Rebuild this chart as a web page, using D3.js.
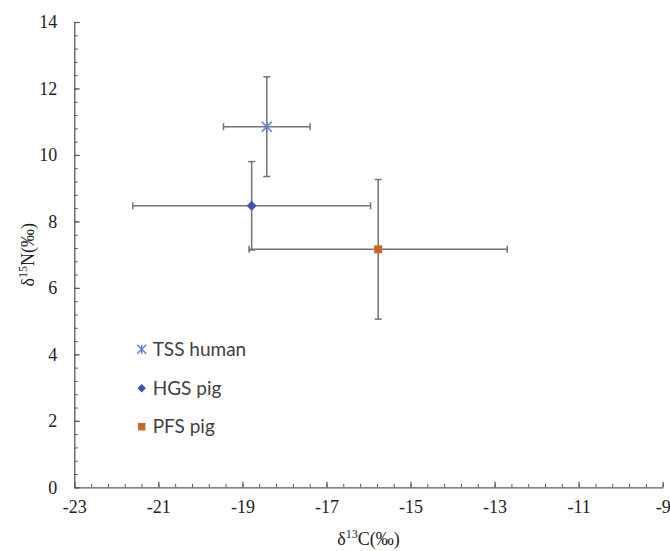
<!DOCTYPE html>
<html>
<head>
<meta charset="utf-8">
<script src="https://cdn.jsdelivr.net/npm/d3@7"></script>
<style>
  html, body { margin: 0; padding: 0; background: #fff; }
  svg { display: block; }
  .serif { font-family: "Liberation Serif", "Times New Roman", Tinos, "DejaVu Serif", serif; }
</style>
</head>
<body>
<svg id="chart" width="670" height="551"></svg>
<script>
// ---- data ----
const series = ["TSS human", "HGS pig", "PFS pig"];
const d13C = [-18.42, -18.78, -15.77];
const d15N = [10.85, 8.47, 7.16];
const errC = [1.03, 2.83, 3.07];
const errN = [1.5, 1.33, 2.1];
const xTicks = [-23, -21, -19, -17, -15, -13, -11, -9];
const yTicks = [0, 2, 4, 6, 8, 10, 12, 14];
const markerShapes = ["asterisk", "diamond", "square"];
const markerColors = ["#5b7fd0", "#3f51b0", "#c8692c"];

const svg = d3.select("#chart");
const x = d3.scaleLinear().domain([-23, -9]).range([74.3, 662.7]);
const y = d3.scaleLinear().domain([0, 14]).range([487.3, 22]);

const axisColor = "#595959";

// minor ticks (every 0.4)
const xMinor = d3.range(0, 36).map(i => -23 + i * 0.4);
const yMinor = d3.range(0, 36).map(i => i * 0.4);

const gxm = svg.append("g").attr("transform", `translate(0,${y(0)})`)
  .call(d3.axisBottom(x).tickValues(xMinor).tickSizeInner(-3.5).tickSizeOuter(0).tickFormat(""));
gxm.select(".domain").remove();
gxm.selectAll("line").attr("stroke", axisColor);

const gym = svg.append("g").attr("transform", `translate(${x(-23)},0)`)
  .call(d3.axisLeft(y).tickValues(yMinor).tickSizeInner(-3.5).tickSizeOuter(0).tickFormat(""));
gym.select(".domain").remove();
gym.selectAll("line").attr("stroke", axisColor);

const gx = svg.append("g").attr("transform", `translate(0,${y(0)})`)
  .call(d3.axisBottom(x).tickValues(xTicks).tickSizeInner(-5.5).tickSizeOuter(0).tickPadding(13).tickFormat(d => d));
gx.attr("font-family", null).attr("font-size", null);
gx.select(".domain").attr("stroke", axisColor).attr("stroke-width", 1.3);
gx.selectAll("line").attr("stroke", axisColor).attr("stroke-width", 1.2);
gx.selectAll("text").attr("class", "serif").style("font-size", "18px").attr("fill", "#222");

const gy = svg.append("g").attr("transform", `translate(${x(-23)},0)`)
  .call(d3.axisLeft(y).tickValues(yTicks).tickSizeInner(-5.5).tickSizeOuter(0).tickPadding(17).tickFormat(d => d));
gy.attr("font-family", null).attr("font-size", null);
gy.select(".domain").attr("stroke", axisColor).attr("stroke-width", 1.3);
gy.selectAll("line").attr("stroke", axisColor).attr("stroke-width", 1.2);
gy.selectAll("text").attr("class", "serif").style("font-size", "18px").attr("fill", "#222");

// axis titles
const xt = svg.append("text").attr("class", "serif")
  .attr("x", (x(-23) + x(-9)) / 2).attr("y", 545)
  .attr("text-anchor", "middle").style("font-size", "18px").attr("fill", "#222");
xt.append("tspan").text("δ");
xt.append("tspan").attr("baseline-shift", "super").style("font-size", "12px").text("13");
xt.append("tspan").text("C(‰)");

const yt = svg.append("text").attr("class", "serif")
  .attr("transform", `translate(34,${(y(0) + y(14)) / 2}) rotate(-90)`)
  .attr("text-anchor", "middle").style("font-size", "18px").attr("fill", "#222");
yt.append("tspan").text("δ");
yt.append("tspan").attr("baseline-shift", "super").style("font-size", "12px").text("15");
yt.append("tspan").text("N(‰)");

// error bars
const idx = d3.range(series.length);
const ebColor = "#737373";
const cap = 3.5;
const eb = svg.append("g").attr("stroke", ebColor).attr("stroke-width", 1.5).attr("fill", "none");
idx.forEach(i => {
  const cx = x(d13C[i]), cy = y(d15N[i]);
  const x1 = x(d13C[i] - errC[i]), x2 = x(d13C[i] + errC[i]);
  const y1 = y(d15N[i] - errN[i]), y2 = y(d15N[i] + errN[i]);
  eb.append("line").attr("x1", x1).attr("x2", x2).attr("y1", cy).attr("y2", cy);
  eb.append("line").attr("x1", x1).attr("x2", x1).attr("y1", cy - cap).attr("y2", cy + cap);
  eb.append("line").attr("x1", x2).attr("x2", x2).attr("y1", cy - cap).attr("y2", cy + cap);
  eb.append("line").attr("x1", cx).attr("x2", cx).attr("y1", y1).attr("y2", y2);
  eb.append("line").attr("x1", cx - cap).attr("x2", cx + cap).attr("y1", y1).attr("y2", y1);
  eb.append("line").attr("x1", cx - cap).attr("x2", cx + cap).attr("y1", y2).attr("y2", y2);
});

// markers
function drawMarker(g, shape, color, cx, cy, s) {
  const r = s / 2;
  if (shape === "asterisk") {
    const p = g.append("g").attr("stroke", color).attr("stroke-width", 1.5);
    p.append("line").attr("x1", cx - r).attr("y1", cy - r).attr("x2", cx + r).attr("y2", cy + r);
    p.append("line").attr("x1", cx - r).attr("y1", cy + r).attr("x2", cx + r).attr("y2", cy - r);
    p.append("line").attr("x1", cx).attr("y1", cy - r).attr("x2", cx).attr("y2", cy + r);
  } else if (shape === "diamond") {
    g.append("path").attr("d", `M${cx},${cy - r}L${cx + r},${cy}L${cx},${cy + r}L${cx - r},${cy}Z`).attr("fill", color);
  } else {
    g.append("rect").attr("x", cx - r).attr("y", cy - r).attr("width", s).attr("height", s).attr("fill", color);
  }
}
const mk = svg.append("g");
idx.forEach(i => drawMarker(mk, markerShapes[i], markerColors[i], x(d13C[i]), y(d15N[i]), i === 2 ? 8 : 10));

// legend
const legY = [349.3, 388.3, 426.7];
const lg = svg.append("g");
idx.forEach(i => {
  drawMarker(lg, markerShapes[i], markerColors[i], 141.7, legY[i], i === 0 ? 9 : (i === 1 ? 8.5 : 7.5));
  lg.append("text").attr("x", 152.7).attr("y", legY[i] + 6.5)
    .style("font-family", "Lato, 'Open Sans', sans-serif").style("font-size", "19px").attr("fill", "#404040")
    .text(series[i]);
});
</script>
</body>
</html>
